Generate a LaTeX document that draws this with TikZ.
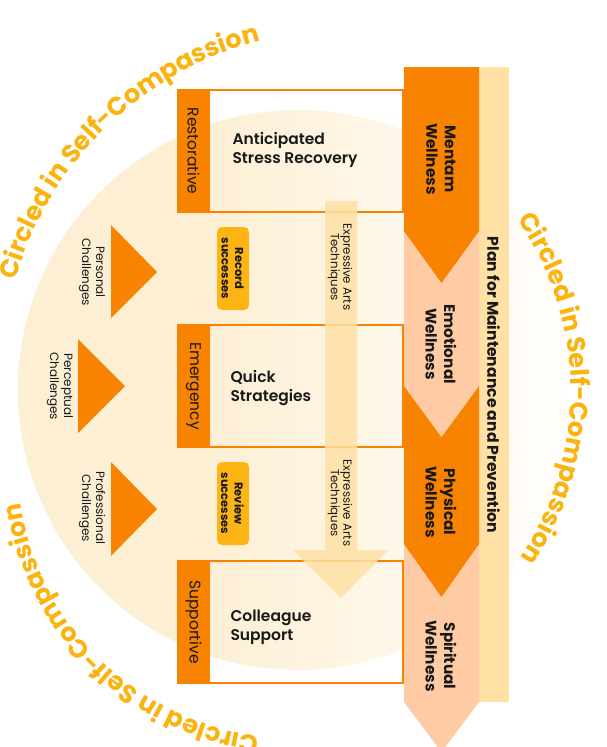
\documentclass[tikz,border=0pt]{standalone}
\usepackage{fontspec}
\setmainfont{Poppins}
\IfFontExistsTF{Poppins SemiBold}{\newfontfamily\semifont{Poppins SemiBold}}{\newcommand\semifont{\bfseries}}
\usetikzlibrary{decorations.text}
\definecolor{org}{RGB}{248,131,0}
\definecolor{peach}{RGB}{255,203,164}
\definecolor{planc}{RGB}{255,225,166}
\definecolor{gold}{RGB}{252,181,20}
\definecolor{arcc}{RGB}{251,180,15}
\definecolor{bgc}{RGB}{253,239,212}
\definecolor{ink}{RGB}{25,25,25}
\pgfdeclarehorizontalshading{circfade}{100bp}{color(0bp)=(bgc); color(25bp)=(bgc); color(42bp)=(bgc); color(75bp)=(white); color(100bp)=(white)}
\newcommand\arcfont{\bfseries\fontsize{25.5}{25.5}\selectfont\color{arcc}}
\begin{document}
\begin{tikzpicture}[x=1pt,y=-1pt,
  tabtxt/.style={rotate=-90, text=ink, font=\fontsize{15.5}{17}\selectfont},
  boxtxt/.style={anchor=west, align=left, text=ink, font=\semifont\fontsize{15.5}{19}\selectfont},
  welltxt/.style={rotate=-90, align=center, text=ink, font=\bfseries\fontsize{15.3}{18.5}\selectfont},
  plantxt/.style={rotate=-90, text=ink, font=\bfseries\fontsize{15.6}{18}\selectfont},
  smalltxt/.style={rotate=-90, align=center, text=ink, font=\fontsize{12}{14}\selectfont},
  succtxt/.style={rotate=-90, align=center, text=ink, font=\bfseries\fontsize{11.5}{13.5}\selectfont},
  exptxt/.style={rotate=-90, align=center, text=ink, font=\fontsize{11.8}{12.5}\selectfont},
  boxline/.style={draw=org, line width=1.5pt},
  arctext/.style={decorate, decoration={text along path, text={|\arcfont|Circled in Self-Compassion}}}
]
\useasboundingbox (0,0) rectangle (607,747);
\fill[white] (0,0) rectangle (607,747);
% background circle
\shade[shading=circfade] (298,390) circle[radius=280];
% arc texts
\path[arctext, decoration={text align=center}] (349,376) ++(190:347) arc[start angle=190, end angle=261.2, radius=347];
\path[arctext, decoration={text align=center}] (271,391) ++(-45:300) arc[start angle=-45, end angle=43.9, radius=300];
\path[arctext, decoration={text align=right}] (295,461) ++(60:278) arc[start angle=60, end angle=171.3, radius=278];
% plan bar
\fill[planc] (479,67) rectangle (509,702);
\node[plantxt] (plan) at (493.5,385) {Plan for Maintenance and Prevention};
% wellness chevrons
\fill[peach] (404,544) -- (479,544) -- (479,702) -- (441.5,752) -- (404,702) -- cycle;
\fill[org] (404,386) -- (479,386) -- (479,544) -- (441.5,597) -- (404,544) -- cycle;
\fill[peach] (404,231) -- (479,231) -- (479,386) -- (441.5,437) -- (404,386) -- cycle;
\fill[org] (404,67) -- (479,67) -- (479,231) -- (441.5,283) -- (404,231) -- cycle;
\node[welltxt] (w1) at (441,159) {Mentam\\Wellness};
\node[welltxt] (w2) at (441,344) {Emotional\\Wellness};
\node[welltxt] (w3) at (441,502) {Physical\\Wellness};
\node[welltxt] (w4) at (441,656) {Spiritual\\Wellness};
% boxes
\draw[boxline] (177.5,90) rectangle (403,212);
\draw[boxline] (177.5,325) rectangle (403,447);
\draw[boxline] (177.5,561) rectangle (403,683);
\fill[org] (177.5,90) rectangle (209.5,212);
\fill[org] (177.5,325) rectangle (209.5,447);
\fill[org] (177.5,561) rectangle (209.5,683);
\node[tabtxt] (tabR) at (193.5,151) {Restorative};
\node[tabtxt] (tabE) at (193.5,386) {Emergency};
\node[tabtxt] (tabS) at (193.5,622) {Supportive};
\node[boxtxt] (bR) at (229,150) {Anticipated\\Stress Recovery};
\node[boxtxt] (bE) at (227,388) {Quick\\Strategies};
\node[boxtxt] (bS) at (227,627) {Colleague\\Support};
% expressive arts arrow
\fill[planc, opacity=.85] (325,201) -- (357,201) -- (357,550) -- (388,550) -- (341,598) -- (293,550) -- (325,550) -- cycle;
\node[exptxt] (e1) at (340,267) {Expressive Arts\\Techniques};
\node[exptxt] (e2) at (340,503) {Expressive Arts\\Techniques};
% success boxes
\fill[gold, rounded corners=5pt] (217,227) rectangle (249,310);
\fill[gold, rounded corners=5pt] (217,462) rectangle (249,545);
\node[succtxt] (s1) at (232.5,268.5) {Record\\successes};
\node[succtxt] (s2) at (232.5,503.5) {Review\\successes};
% challenge triangles
\fill[org] (111,225) -- (157,272) -- (111,318) -- cycle;
\fill[org] (78,339) -- (125,386) -- (78,433) -- cycle;
\fill[org] (111,462) -- (157,509) -- (111,556) -- cycle;
\node[smalltxt] (c1) at (92,272) {Personal\\Challenges};
\node[smalltxt] (c2) at (60,386) {Perceptual\\Challenges};
\node[smalltxt] (c3) at (92,508) {Professional\\Challenges};
\end{tikzpicture}
\end{document}
